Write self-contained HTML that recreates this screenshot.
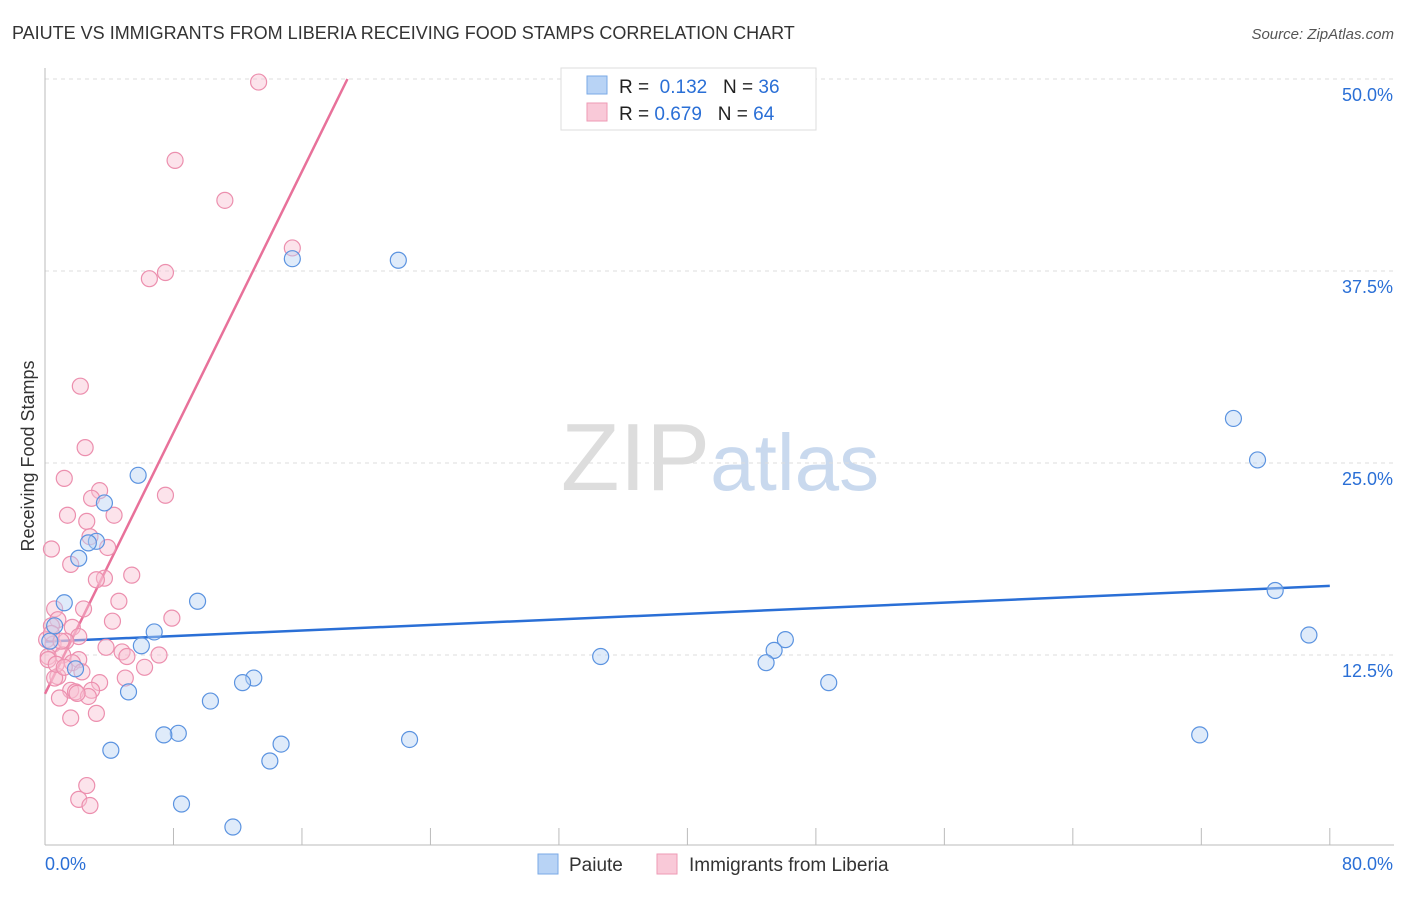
<!DOCTYPE html>
<html><head><meta charset="utf-8"><style>
body{margin:0;background:#fff;font-family:"Liberation Sans",sans-serif;}
svg text{font-family:"Liberation Sans",sans-serif;}
</style></head><body>
<svg id="chart" width="1406" height="892" xmlns="http://www.w3.org/2000/svg">
<text x="12" y="39" font-size="18" fill="#333">PAIUTE VS IMMIGRANTS FROM LIBERIA RECEIVING FOOD STAMPS CORRELATION CHART</text>
<text x="1394" y="39" font-size="15" fill="#555" text-anchor="end" font-style="italic">Source: ZipAtlas.com</text>
<text transform="translate(34,456) rotate(-90)" font-size="18" fill="#333" text-anchor="middle">Receiving Food Stamps</text>
<text x="720" y="490" font-size="96" text-anchor="middle" fill="#ddd" font-family="Liberation Serif">ZIP<tspan fill="#c9d9ee" font-family="Liberation Sans" font-size="80">atlas</tspan></text>
<g id="grid"></g><g id="axes"></g><g id="lines"></g><g id="pts"></g>
<g>
<rect x="561" y="68" width="255" height="62" fill="#fff" stroke="#ddd"/>
<rect x="587" y="76" width="20" height="18" fill="#b8d3f5" stroke="#7aaae6"/>
<rect x="587" y="103" width="20" height="18" fill="#f9c9d8" stroke="#ee9ab5"/>
<text x="619" y="93" font-size="19" fill="#222">R = <tspan fill="#2a6fd6">&#160;0.132</tspan>&#160;&#160;&#160;N = <tspan fill="#2a6fd6">36</tspan></text>
<text x="619" y="120" font-size="19" fill="#222">R = <tspan fill="#2a6fd6">0.679</tspan>&#160;&#160;&#160;N = <tspan fill="#2a6fd6">64</tspan></text>
</g>
<g>
<rect x="538" y="854" width="20" height="20" fill="#b8d3f5" stroke="#7aaae6"/>
<text x="569" y="871" font-size="19" fill="#333">Paiute</text>
<rect x="657" y="854" width="20" height="20" fill="#f9c9d8" stroke="#ee9ab5"/>
<text x="689" y="871" font-size="19" fill="#333">Immigrants from Liberia</text>
</g>
</svg>
<script>
const yTicks=[12.5,25,37.5,50];
const yTickLabels=["12.5%","25.0%","37.5%","50.0%"];
const xTicks=[0,8,16,24,32,40,48,56,64,72,80];
const paiuteX=[15.4,22.0,74.0,75.5,5.8,3.7,3.2,2.7,2.1,1.2,9.5,76.6,6.8,6.0,0.6,78.7,46.1,45.4,44.9,34.6,1.9,13.0,12.3,48.8,5.2,10.3,8.3,7.4,14.7,22.7,4.1,71.9,14.0,8.5,11.7,0.3];
const paiuteY=[38.3,38.2,27.9,25.2,24.2,22.4,19.9,19.8,18.8,15.9,16.0,16.7,14.0,13.1,14.4,13.8,13.5,12.8,12.0,12.4,11.6,11.0,10.7,10.7,10.1,9.5,7.4,7.3,6.7,7.0,6.3,7.3,5.6,2.8,1.3,13.4];
const liberiaX=[13.3,8.1,11.2,15.4,7.5,6.5,2.2,2.5,1.2,7.5,3.4,2.9,4.3,1.4,2.6,2.8,0.4,3.9,1.6,5.4,3.7,3.2,4.6,0.6,2.4,7.9,0.8,4.2,0.4,1.7,2.1,0.1,0.5,1.3,3.8,4.8,5.1,7.1,0.2,1.1,2.1,1.7,6.2,2.3,0.8,5.0,0.6,3.4,2.9,1.6,1.9,2.7,0.9,3.2,1.6,2.6,2.1,2.8,0.2,0.7,1.2,2.0,0.4,1.0];
const liberiaY=[49.8,44.7,42.1,39.0,37.4,37.0,30.0,26.0,24.0,22.9,23.2,22.7,21.6,21.6,21.2,20.2,19.4,19.5,18.4,17.7,17.5,17.4,16.0,15.5,15.5,14.9,14.8,14.7,14.4,14.3,13.7,13.5,13.2,13.4,13.0,12.7,12.4,12.5,12.4,12.5,12.2,12.0,11.7,11.4,11.1,11.0,11.0,10.7,10.2,10.2,10.1,9.8,9.7,8.7,8.4,4.0,3.1,2.7,12.2,11.9,11.7,10.0,13.9,13.4];
const X=v=>45+v*16.06, Y=v=>847-v*15.36;
const NS="http://www.w3.org/2000/svg";
function mk(tag,attrs,parent){const e=document.createElementNS(NS,tag);for(const k in attrs)e.setAttribute(k,attrs[k]);document.getElementById(parent).appendChild(e);return e;}
yTicks.forEach((t,i)=>{
 const g=mk('line',{x1:45,x2:1394,y1:Y(t),y2:Y(t),stroke:'#ddd','stroke-dasharray':'4,4'},'grid');
 
 
 const l=mk('text',{x:1393,y:Y(t)+22,'font-size':18,fill:'#2a6fd6','text-anchor':'end'},'axes');l.textContent=yTickLabels[i];
 
 
});
mk('line',{x1:45,x2:45,y1:68,y2:845,stroke:'#bbb'},'axes');
mk('line',{x1:45,x2:1394,y1:845,y2:845,stroke:'#bbb'},'axes');
xTicks.forEach(t=>{const m=mk('line',{x1:X(t),x2:X(t),y1:828,y2:845,stroke:'#bbb'},'axes');
 
 });
let a=mk('text',{x:45,y:870,'font-size':18,fill:'#2a6fd6'},'axes');a.textContent='0.0%';


a=mk('text',{x:1393,y:870,'font-size':18,fill:'#2a6fd6','text-anchor':'end'},'axes');a.textContent='80.0%';


function drawPts(xs,ys,fill,stroke,name){xs.forEach((x,i)=>{const c=mk('circle',{cx:X(x),cy:Y(ys[i]),r:8,fill:fill,'fill-opacity':0.45,stroke:stroke,'stroke-width':1.2},'pts');
 
 });}
drawPts(liberiaX,liberiaY,'#f9c0d3','#ec8fae','liberia-point');
drawPts(paiuteX,paiuteY,'#b8d3f5','#5b93e0','paiute-point');
function fit(xs,ys){const n=xs.length,mx=xs.reduce((a,b)=>a+b)/n,my=ys.reduce((a,b)=>a+b)/n;let sxy=0,sxx=0;xs.forEach((x,i)=>{sxy+=(x-mx)*(ys[i]-my);sxx+=(x-mx)**2});const b=sxy/sxx;return [my-b*mx,b];}
let [a1,b1]=fit(paiuteX,paiuteY);
let bl=mk('line',{x1:X(0),y1:Y(a1),x2:X(80),y2:Y(a1+b1*80),stroke:'#2a6fd6','stroke-width':2.5},'lines');


let [a2,b2]=fit(liberiaX,liberiaY);
let xe=(50-a2)/b2;
let pl=mk('line',{x1:X(0),y1:Y(a2),x2:X(xe),y2:Y(50),stroke:'#e8719a','stroke-width':2.5},'lines');


</script>
</body></html>
